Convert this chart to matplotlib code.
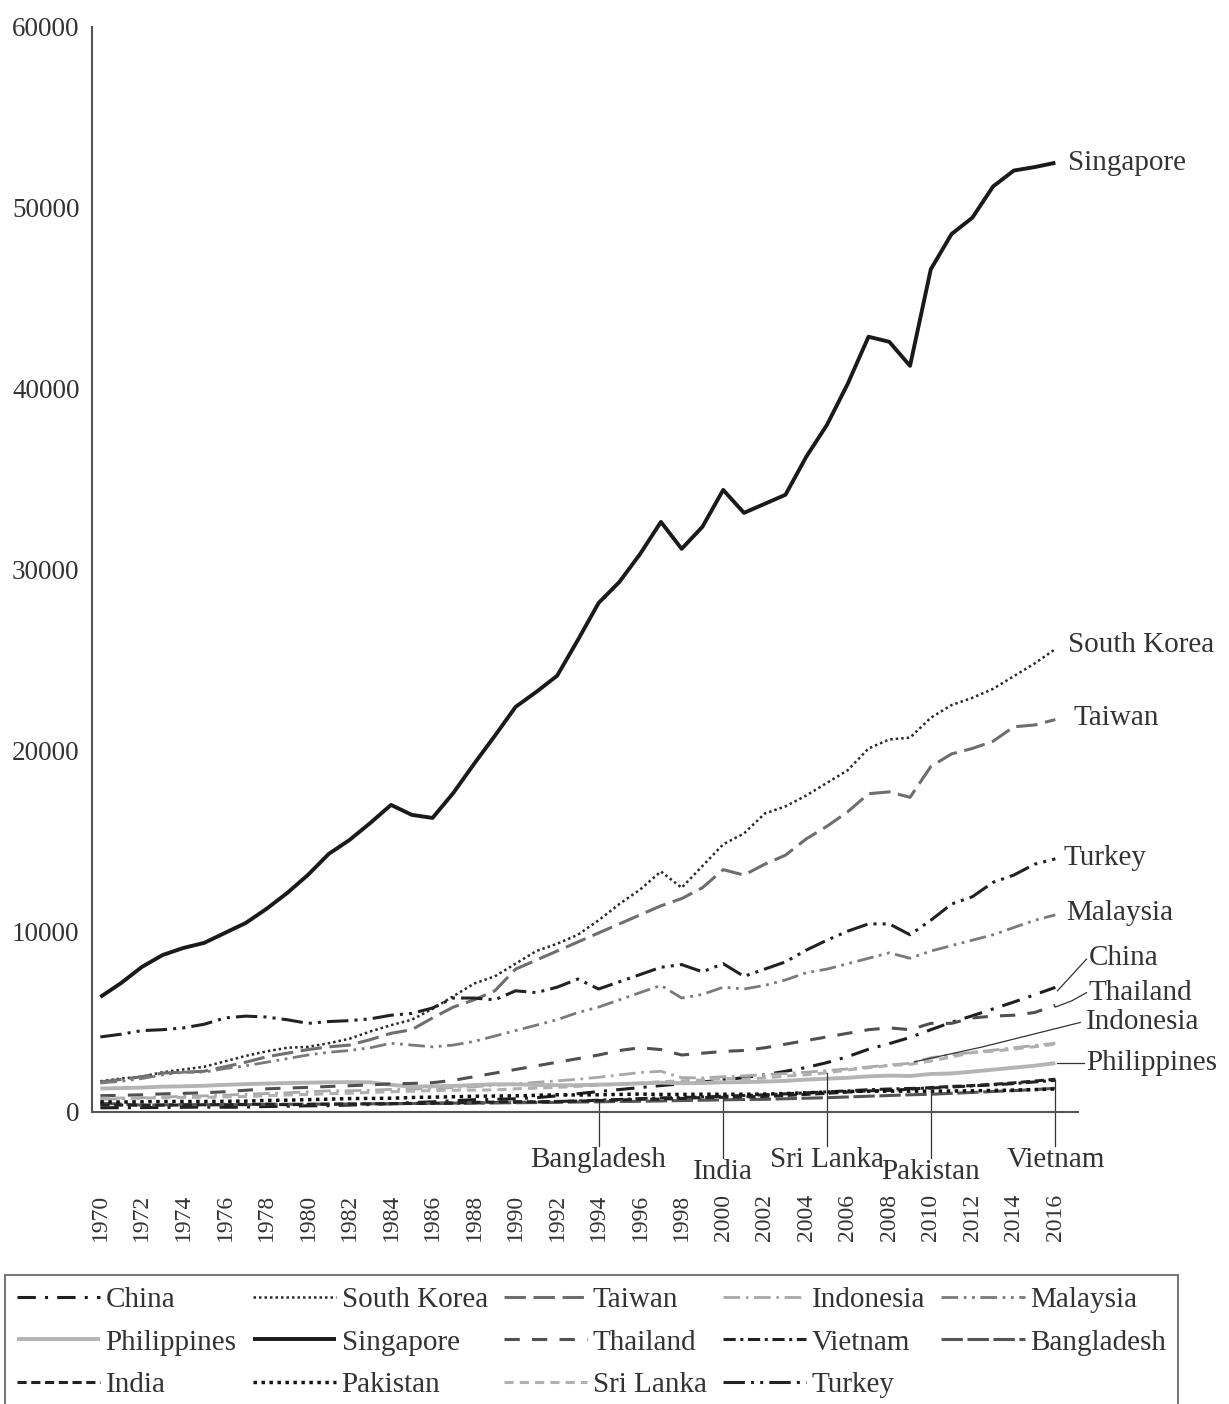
import numpy as np
import matplotlib
matplotlib.use("Agg")
import matplotlib.pyplot as plt

plt.rcParams.update(
    {
        "font.family": "Liberation Serif",
        "font.size": 20,
        "text.color": "#333333",
        "xtick.color": "#333333",
        "ytick.color": "#333333",
    }
)

# %%
# GDP per capita, 1970-2016
years = list(range(1970, 2017))
nan = np.nan

china = [230, 240, 240, 250, 260, 270, 260, 270, 300, 320,
         340, 350, 380, 410, 460, 520, 560, 620, 680, 700,
         730, 790, 890, 1010, 1130, 1240, 1350, 1460, 1560, 1660,
         1770, 1900, 2060, 2250, 2460, 2730, 3060, 3470, 3780, 4120,
         4550, 4960, 5320, 5700, 6080, 6480, 6890]
south_korea = [1700, 1850, 1950, 2200, 2350, 2500, 2800, 3100, 3350, 3550,
               3600, 3800, 4050, 4450, 4800, 5100, 5700, 6400, 7100, 7500,
               8200, 8900, 9300, 9800, 10600, 11500, 12300, 13300, 12400, 13600,
               14800, 15400, 16500, 16900, 17500, 18200, 18900, 20100, 20600, 20700,
               21800, 22500, 22900, 23400, 24100, 24800, 25600]
taiwan = [1650, 1800, 1950, 2150, 2200, 2250, 2500, 2750, 3050, 3250,
          3450, 3600, 3700, 4000, 4350, 4550, 5200, 5800, 6200, 6700,
          7900, 8400, 8900, 9400, 9900, 10400, 10900, 11400, 11800, 12400,
          13400, 13100, 13700, 14200, 15100, 15800, 16600, 17600, 17700, 17400,
          19100, 19800, 20100, 20500, 21300, 21400, 21700]
indonesia = [700, 730, 780, 830, 860, 890, 930, 980, 1020, 1060,
             1120, 1170, 1170, 1200, 1250, 1260, 1300, 1350, 1400, 1470,
             1550, 1640, 1720, 1810, 1920, 2050, 2180, 2250, 1900, 1880,
             1950, 2000, 2060, 2130, 2200, 2290, 2380, 2490, 2600, 2690,
             3000, 3150, 3300, 3420, 3550, 3680, 3800]
malaysia = [1600, 1700, 1850, 2050, 2200, 2200, 2400, 2550, 2750, 2950,
            3150, 3300, 3400, 3550, 3800, 3700, 3600, 3700, 3900, 4200,
            4500, 4800, 5100, 5500, 5800, 6200, 6600, 7000, 6300, 6500,
            6900, 6800, 7000, 7300, 7700, 7900, 8200, 8500, 8800, 8500,
            8900, 9200, 9500, 9800, 10200, 10600, 10900]
philippines = [1300, 1320, 1350, 1400, 1420, 1450, 1500, 1540, 1570, 1600,
               1620, 1640, 1650, 1640, 1500, 1400, 1420, 1440, 1490, 1530,
               1530, 1490, 1480, 1480, 1510, 1540, 1580, 1620, 1590, 1600,
               1640, 1650, 1680, 1720, 1790, 1840, 1890, 1970, 2010, 1990,
               2100, 2130, 2230, 2340, 2450, 2560, 2700]
singapore = [6360, 7130, 8020, 8680, 9070, 9350, 9900, 10450, 11230, 12110,
             13110, 14270, 15040, 15980, 16980, 16430, 16260, 17640, 19250, 20800,
             22400, 23230, 24120, 26100, 28150, 29310, 30860, 32630, 31140, 32360,
             34400, 33130, 33630, 34130, 36230, 38000, 40270, 42870, 42590, 41260,
             46600, 48550, 49450, 51180, 52060, 52250, 52490]
thailand = [900, 920, 950, 1000, 1030, 1060, 1120, 1200, 1280, 1320,
            1360, 1410, 1450, 1500, 1550, 1580, 1620, 1750, 1950, 2150,
            2350, 2550, 2750, 2950, 3150, 3400, 3550, 3450, 3150, 3250,
            3350, 3400, 3550, 3750, 3950, 4150, 4350, 4550, 4650, 4550,
            4900, 4900, 5200, 5300, 5350, 5500, 5900]
vietnam = [nan] * 14 + [460, 470, 480, 490, 500, 520,
                        530, 550, 580, 610, 650, 690, 740, 780, 800, 830,
                        870, 910, 950, 1000, 1060, 1110, 1170, 1230, 1270, 1300,
                        1320, 1380, 1440, 1500, 1570, 1660, 1750]
bangladesh = [480, 440, 380, 390, 410, 400, 410, 400, 430, 430,
              430, 440, 440, 450, 460, 470, 480, 490, 490, 500,
              510, 520, 530, 550, 560, 580, 590, 610, 630, 650,
              670, 690, 700, 730, 760, 790, 830, 870, 910, 950,
              980, 1030, 1080, 1130, 1180, 1240, 1310]
india = [390, 380, 370, 380, 380, 400, 400, 420, 430, 400,
         420, 430, 440, 450, 460, 470, 480, 490, 530, 550,
         570, 560, 580, 600, 630, 660, 700, 710, 750, 800,
         810, 840, 860, 910, 970, 1030, 1100, 1170, 1190, 1260,
         1350, 1410, 1460, 1530, 1610, 1710, 1810]
pakistan = [560, 550, 560, 580, 580, 580, 590, 600, 640, 650,
            680, 710, 740, 750, 760, 800, 820, 840, 870, 880,
            890, 920, 950, 940, 950, 970, 990, 970, 970, 980,
            980, 980, 990, 1020, 1060, 1100, 1130, 1150, 1150, 1150,
            1150, 1160, 1170, 1190, 1210, 1240, 1270]
sri_lanka = [760, 770, 760, 790, 800, 810, 830, 860, 900, 940,
             970, 1010, 1040, 1080, 1120, 1150, 1180, 1200, 1210, 1220,
             1280, 1320, 1360, 1420, 1480, 1540, 1590, 1670, 1720, 1770,
             1860, 1820, 1880, 1980, 2060, 2170, 2320, 2450, 2570, 2630,
             2820, 3040, 3290, 3360, 3480, 3610, 3750]
turkey = [4150, 4300, 4500, 4550, 4650, 4850, 5200, 5300, 5250, 5100,
          4900, 5000, 5050, 5150, 5350, 5450, 5750, 6300, 6300, 6200,
          6700, 6600, 6900, 7350, 6800, 7200, 7600, 8000, 8150, 7750,
          8200, 7500, 7900, 8300, 8950, 9500, 10000, 10400, 10400, 9800,
          10600, 11500, 11900, 12700, 13100, 13700, 14000]

# name, values, colour, linewidth, dash pattern
series = [
    ("China", china, "#1e1e1e", 2.2, (0, (6, 3, 1, 3))),
    ("South Korea", south_korea, "#2a2a2a", 1.8, (0, (1, 1.2))),
    ("Taiwan", taiwan, "#6e6e6e", 2.2, (0, (7, 2.5))),
    ("Indonesia", indonesia, "#a8a8a8", 2.0, (0, (6, 2, 1, 2))),
    ("Malaysia", malaysia, "#7a7a7a", 2.0, (0, (6, 2, 1, 2, 1, 2))),
    ("Philippines", philippines, "#b4b4b4", 2.8, "-"),
    ("Singapore", singapore, "#1a1a1a", 2.8, "-"),
    ("Thailand", thailand, "#505050", 2.2, (0, (5, 4))),
    ("Vietnam", vietnam, "#222222", 2.2, (0, (4, 1.5, 1, 1.5))),
    ("Bangladesh", bangladesh, "#555555", 2.2, (0, (7, 1.5))),
    ("India", india, "#222222", 2.2, (0, (3, 1.5))),
    ("Pakistan", pakistan, "#111111", 2.5, (0, (1, 1.3))),
    ("Sri Lanka", sri_lanka, "#b0b0b0", 2.2, (0, (3, 2))),
    ("Turkey", turkey, "#222222", 2.2, (0, (7, 2, 1, 2, 1, 2))),
]

# %%
fig = plt.figure(figsize=(12.29, 14.04), dpi=100)
ax = fig.add_axes([0.0749, 0.208, 0.8024, 0.7728])

lines = {}
for name, vals, col, lw, ls in series:
    (ln,) = ax.plot(years, vals, color=col, lw=lw, linestyle=ls, label=name,
                    solid_capstyle="butt")
    lines[name] = ln

ax.set_xlim(1969.6, 2017.1)
ax.set_ylim(0, 60000)

ax.set_xticks(range(1970, 2017, 2))
ax.set_xticklabels([str(y) for y in range(1970, 2017, 2)], rotation=90, fontsize=17)
ax.set_yticks(range(0, 60001, 10000))
ax.set_yticklabels([str(v) for v in range(0, 60001, 10000)], fontsize=19.5)
ax.tick_params(axis="x", length=0, pad=59)
ax.tick_params(axis="y", length=0, pad=9)

ax.spines["top"].set_visible(False)
ax.spines["right"].set_visible(False)
for s in ["left", "bottom"]:
    ax.spines[s].set_color("#555555")
    ax.spines[s].set_linewidth(1.5)

# labels at end of lines
end_labels = [
    ("Singapore", 2016.6, 52490),
    ("South Korea", 2016.6, 25830),
    ("Taiwan", 2016.85, 21790),
    ("Turkey", 2016.4, 14050),
    ("Malaysia", 2016.5, 11000),
    ("China", 2017.6, 8520),
    ("Thailand", 2017.6, 6580),
    ("Indonesia", 2017.45, 4980),
    ("Philippines", 2017.5, 2710),
]
for name, x, y in end_labels:
    ax.text(x, y, name, ha="left", va="center", fontsize=21, clip_on=False)

lc = "#333333"
ax.plot([2016.1, 2017.5], [6700, 8450], color=lc, lw=0.9, clip_on=False)
ax.plot([2016.0, 2016.8, 2017.5], [5800, 6150, 6600], color=lc, lw=0.9, clip_on=False)
ax.plot([2009.2, 2012.5, 2017.2], [2770, 3600, 4950], color=lc, lw=0.9, clip_on=False)
ax.plot([2016.1, 2017.4], [2700, 2700], color=lc, lw=0.9, clip_on=False)

# labels below the axis for the low series
below_labels = [
    ("Bangladesh", 1994, bangladesh, -1880, -2650),
    ("India", 2000, india, -2540, -3320),
    ("Sri Lanka", 2005, sri_lanka, -1880, -2650),
    ("Pakistan", 2010, pakistan, -2540, -3320),
    ("Vietnam", 2016, vietnam, -1880, -2650),
]
for name, yr, vals, y_end, y_txt in below_labels:
    v = vals[yr - 1970]
    ax.plot([yr, yr], [v, y_end], color=lc, lw=0.9, clip_on=False)
    ax.text(yr, y_txt, name, ha="center", va="center", fontsize=21, clip_on=False)

# legend, filled row by row
order = ["China", "Philippines", "India",
         "South Korea", "Singapore", "Pakistan",
         "Taiwan", "Thailand", "Sri Lanka",
         "Indonesia", "Vietnam", "Turkey",
         "Malaysia", "Bangladesh"]
leg = fig.legend(
    [lines[n] for n in order], order,
    loc="upper left", bbox_to_anchor=(5 / 1229, 1 - 1275 / 1404),
    ncol=5, fontsize=21, frameon=True, fancybox=False,
    handlelength=2.85, handletextpad=0.2, columnspacing=0.55,
    labelspacing=0.55, borderpad=0.4, borderaxespad=0,
)
leg.get_frame().set_edgecolor("#555555")
leg.get_frame().set_linewidth(1.5)

plt.savefig("out.png", dpi=100)
